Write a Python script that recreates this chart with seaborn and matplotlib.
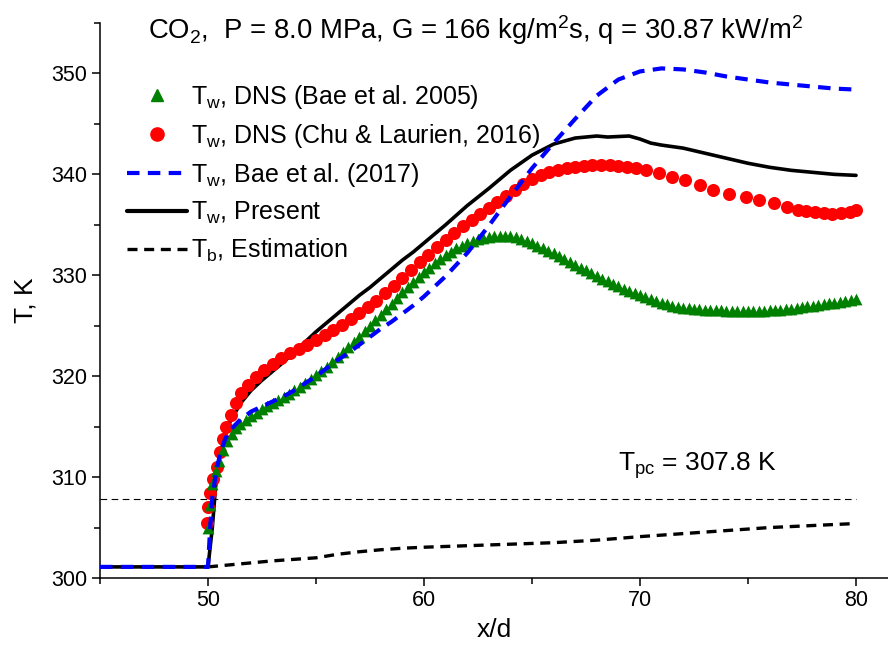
import matplotlib
matplotlib.use("Agg")
import matplotlib.pyplot as plt
from matplotlib.lines import Line2D
from matplotlib.ticker import MultipleLocator
import seaborn as sns
import pandas as pd

# ---------------- data ----------------
present_x = [45, 50.0, 50.2, 50.35, 50.5, 50.75, 51.0, 51.5, 52.0, 52.5, 53.0, 53.5, 54.0, 54.5, 55.0,
             55.5, 56.0, 56.5, 57.0, 57.5, 58.0, 58.5, 59.0, 59.5, 60.0, 61.0, 62.0, 63.0, 64.0, 65.0,
             66.0, 67.0, 68.0, 68.5, 69.0, 69.5, 70.0, 70.5, 71.0, 72.0, 73.0, 74.0, 75.0, 76.0, 77.0,
             78.0, 79.0, 80.0]
present_y = [301.1, 301.1, 305.0, 309.0, 311.5, 313.8, 315.4, 317.3, 318.6, 319.6, 320.5, 321.4, 322.4, 323.4, 324.4,
             325.3, 326.2, 327.1, 328.0, 328.8, 329.7, 330.6, 331.5, 332.3, 333.2, 335.0, 336.9, 338.6, 340.4, 341.9,
             343.0, 343.6, 343.8, 343.7, 343.75, 343.8, 343.5, 343.1, 342.9, 342.6, 342.1, 341.6, 341.1, 340.7, 340.4,
             340.2, 340.0, 339.9]

bae17_x = [45, 50.0, 50.1, 50.2, 50.4, 50.6, 50.8, 51.0, 51.5, 52.0, 52.5, 53.0, 53.5, 54.0, 54.5, 55.0,
           55.5, 56.0, 56.5, 57.0, 57.5, 58.0, 58.5, 59.0, 59.5, 60.0, 61.0, 62.0, 63.0, 64.0, 65.0, 66.0,
           67.0, 68.0, 69.0, 70.0, 71.0, 72.0, 73.0, 74.0, 75.0, 76.0, 77.0, 78.0, 79.0, 80.0]
bae17_y = [301.1, 301.1, 305.0, 308.0, 310.8, 312.6, 313.8, 314.6, 315.7, 316.5, 317.0, 317.5, 318.0, 318.6, 319.3, 320.0,
           320.8, 321.6, 322.3, 323.1, 323.9, 324.7, 325.4, 326.2, 327.0, 327.9, 329.9, 332.2, 334.9, 337.8, 340.6, 343.1,
           345.5, 347.8, 349.4, 350.2, 350.5, 350.4, 350.1, 349.7, 349.4, 349.1, 348.9, 348.7, 348.5, 348.4]

tb_x = [50.0, 51.0, 52.0, 53.0, 54.0, 55.0, 56.0, 57.0, 58.0, 59.0, 60.0, 62.0, 64.0, 66.0, 68.0, 70.0,
        72.0, 74.0, 76.0, 78.0, 80.0]
tb_y = [301.1, 301.3, 301.5, 301.7, 301.85, 302.0, 302.35, 302.6, 302.8, 302.95, 303.05, 303.2, 303.35, 303.5,
        303.75, 304.1, 304.4, 304.7, 305.0, 305.2, 305.4]

bae05_x = [50.0, 50.1, 50.2, 50.35, 50.5, 50.7, 50.9, 51.1, 51.3, 51.5, 51.75, 52.0, 52.25, 52.5, 52.75, 53.0,
           53.25, 53.5, 53.75, 54.0, 54.25, 54.5, 54.75, 55.0, 55.25, 55.5, 55.75, 56.0, 56.25, 56.5, 56.75, 57.0,
           57.25, 57.5, 57.75, 58.0, 58.25, 58.5, 58.75, 59.0, 59.25, 59.5, 59.75, 60.0, 60.25, 60.5, 60.75, 61.0,
           61.25, 61.5, 61.75, 62.0, 62.25, 62.5, 62.75, 63.0, 63.25, 63.5, 63.75, 64.0, 64.25, 64.5, 64.75, 65.0,
           65.25, 65.5, 65.75, 66.0, 66.25, 66.5, 66.75, 67.0, 67.25, 67.5, 67.75, 68.0, 68.25, 68.5, 68.75, 69.0,
           69.25, 69.5, 69.75, 70.0, 70.25, 70.5, 70.75, 71.0, 71.25, 71.5, 71.75, 72.0, 72.25, 72.5, 72.75, 73.0,
           73.25, 73.5, 73.75, 74.0, 74.25, 74.5, 74.75, 75.0, 75.25, 75.5, 75.75, 76.0, 76.25, 76.5, 76.75, 77.0,
           77.25, 77.5, 77.75, 78.0, 78.25, 78.5, 78.75, 79.0, 79.25, 79.5, 79.75, 80.0]
bae05_y = [305.0, 307.2, 309.3, 310.6, 311.6, 312.7, 313.6, 314.3, 314.9, 315.3, 315.7, 316.1, 316.4, 316.7, 317.0, 317.3,
           317.6, 317.9, 318.25, 318.6, 318.95, 319.3, 319.7, 320.1, 320.5, 320.9, 321.4, 321.9, 322.4, 322.9, 323.4, 323.9,
           324.45, 325.0, 325.55, 326.1, 326.65, 327.2, 327.75, 328.3, 328.8, 329.3, 329.8, 330.3, 330.75, 331.2, 331.6, 332.0,
           332.35, 332.7, 332.95, 333.2, 333.4, 333.6, 333.7, 333.8, 333.85, 333.9, 333.9, 333.85, 333.75, 333.6, 333.4, 333.2,
           332.95, 332.7, 332.45, 332.2, 331.9, 331.6, 331.3, 331.0, 330.75, 330.5, 330.2, 329.9, 329.65, 329.4, 329.15, 328.9,
           328.65, 328.4, 328.2, 328.0, 327.8, 327.6, 327.45, 327.3, 327.15, 327.0, 326.9, 326.8, 326.75, 326.7, 326.65, 326.6,
           326.57, 326.55, 326.52, 326.5, 326.5, 326.5, 326.5, 326.5, 326.5, 326.5, 326.5, 326.55, 326.57, 326.6, 326.65, 326.7,
           326.77, 326.85, 326.92, 327.0, 327.07, 327.15, 327.22, 327.3, 327.37, 327.45, 327.52, 327.6]

chu_x = [49.95, 50.0, 50.1, 50.25, 50.4, 50.55, 50.7, 50.85, 51.05, 51.3, 51.55, 51.85, 52.2, 52.6, 53.0, 53.4,
         53.8, 54.2, 54.6, 55.0, 55.4, 55.8, 56.2, 56.6, 57.0, 57.4, 57.8, 58.2, 58.6, 59.0, 59.4, 59.8,
         60.2, 60.6, 61.0, 61.4, 61.8, 62.2, 62.6, 63.0, 63.4, 63.8, 64.2, 64.6, 65.0, 65.4, 65.8, 66.2,
         66.6, 67.0, 67.4, 67.8, 68.2, 68.6, 69.0, 69.4, 69.8, 70.3, 70.9, 71.5, 72.1, 72.8, 73.4, 74.1,
         74.9, 75.5, 76.2, 76.8, 77.3, 77.7, 78.1, 78.5, 78.9, 79.3, 79.7, 80.0]
chu_y = [305.5, 307.0, 308.4, 309.8, 311.0, 312.5, 313.8, 315.0, 316.2, 317.3, 318.3, 319.1, 319.9, 320.6, 321.2, 321.8,
         322.3, 322.7, 323.1, 323.6, 324.1, 324.6, 325.1, 325.7, 326.3, 326.9, 327.5, 328.2, 328.9, 329.7, 330.5, 331.3,
         332.0, 332.8, 333.5, 334.2, 334.9, 335.5, 336.1, 336.7, 337.3, 337.9, 338.5, 339.0, 339.5, 339.9, 340.2, 340.4,
         340.6, 340.75, 340.85, 340.9, 340.9, 340.9, 340.85, 340.75, 340.6, 340.4, 340.1, 339.75, 339.4, 338.9, 338.5, 338.1,
         337.8, 337.5, 337.2, 336.8, 336.5, 336.35, 336.25, 336.15, 336.1, 336.15, 336.3, 336.45]

T_pc = 307.8
x_ticks = [50, 60, 70, 80]
y_ticks = [300, 310, 320, 330, 340, 350]

labels = [r"T$_{\rm w}$, DNS (Bae et al. 2005)",
          r"T$_{\rm w}$, DNS (Chu & Laurien, 2016)",
          r"T$_{\rm w}$, Bae et al. (2017)",
          r"T$_{\rm w}$, Present",
          r"T$_{\rm b}$, Estimation"]
title = r"CO$_2$,  P = 8.0 MPa, G = 166 kg/m$^2$s, q = 30.87 kW/m$^2$"
tpc_label = r"T$_{\rm pc}$ = 307.8 K"

# ---------------- style ----------------
sns.set_theme(style="ticks")
plt.rcParams["font.family"] = ["Liberation Sans", "DejaVu Sans"]
plt.rcParams["mathtext.fontset"] = "custom"
plt.rcParams["mathtext.rm"] = "Liberation Sans"
plt.rcParams["mathtext.it"] = "Liberation Sans:italic"
plt.rcParams["mathtext.bf"] = "Liberation Sans:bold"
plt.rcParams["text.color"] = "black"
plt.rcParams["axes.labelcolor"] = "black"

W, H = 888, 647
fig = plt.figure(figsize=(W / 100, H / 100), dpi=100)
ax = fig.add_axes([100 / W, 69 / H, 788 / W, 555 / H])

df_present = pd.DataFrame({"x": present_x, "y": present_y})
df_bae17 = pd.DataFrame({"x": bae17_x, "y": bae17_y})
df_tb = pd.DataFrame({"x": tb_x, "y": tb_y})
df_bae05 = pd.DataFrame({"x": bae05_x, "y": bae05_y})
df_chu = pd.DataFrame({"x": chu_x, "y": chu_y})
df_tpc = pd.DataFrame({"x": [45, 80], "y": [T_pc, T_pc]})

sns.lineplot(data=df_tpc, x="x", y="y", ax=ax, color="black", lw=0.8,
             linestyle=(0, (6, 4)), sort=False, estimator=None, zorder=1)
sns.lineplot(data=df_present, x="x", y="y", ax=ax, color="black", lw=2.6,
             sort=False, estimator=None, zorder=2)
sns.lineplot(data=df_tb, x="x", y="y", ax=ax, color="black", lw=2.4,
             linestyle=(0, (3, 2)), sort=False, estimator=None, zorder=2)
sns.scatterplot(data=df_chu, x="x", y="y", ax=ax, color="red", marker="o", s=88,
                edgecolor="red", linewidth=0, zorder=3)
sns.scatterplot(data=df_bae05, x="x", y="y", ax=ax, color="green", marker="^", s=72,
                edgecolor="green", linewidth=0, zorder=4)
sns.lineplot(data=df_bae17, x="x", y="y", ax=ax, color="blue", lw=3.0,
             linestyle=(0, (3, 2)), sort=False, estimator=None, zorder=5)

ax.set_xlim(45, 45 + 788 / 21.6)
ax.set_ylim(300, 355)
ax.set_xticks(x_ticks)
ax.set_yticks(y_ticks)
ax.xaxis.set_minor_locator(MultipleLocator(5))
ax.yaxis.set_minor_locator(MultipleLocator(5))
ax.tick_params(axis="both", which="major", direction="out", length=6, width=1.1,
               labelsize=15.5, color="black", labelcolor="black", pad=3)
ax.tick_params(axis="both", which="minor", direction="out", length=4, width=1.1, color="black")
for s in ["top", "right"]:
    ax.spines[s].set_visible(False)
for s in ["left", "bottom"]:
    ax.spines[s].set_linewidth(1.1)
    ax.spines[s].set_color("black")

ax.set_xlabel("x/d", fontsize=19, labelpad=5)
ax.set_ylabel("T, K", fontsize=19, labelpad=10)

fig.text(148 / W, 1 - 30 / H, title, fontsize=19.8, ha="left", va="center")
fig.text(618 / W, 1 - 466 / H, tpc_label, fontsize=19, ha="left", va="center")

handles = [
    Line2D([], [], color="green", marker="^", linestyle="none", markersize=9),
    Line2D([], [], color="red", marker="o", linestyle="none", markersize=9.5),
    Line2D([], [], color="blue", lw=3.0, linestyle=(0, (3, 2))),
    Line2D([], [], color="black", lw=3.0),
    Line2D([], [], color="black", lw=2.4, linestyle=(0, (3, 2))),
]
leg = fig.legend(handles, labels, loc="upper left", bbox_to_anchor=(127 / W, 1 - 83 / H),
                 frameon=False, fontsize=18, handlelength=2.4, handletextpad=0.15,
                 labelspacing=0.44, borderpad=0, borderaxespad=0)

fig.savefig("out.png", dpi=100)
